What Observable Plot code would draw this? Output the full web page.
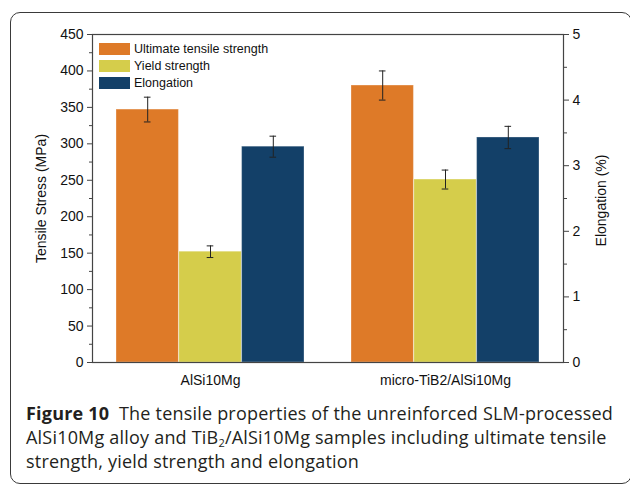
<!DOCTYPE html>
<html>
<head>
<meta charset="utf-8">
<script src="https://cdn.jsdelivr.net/npm/d3@7"></script>
<script src="https://cdn.jsdelivr.net/npm/@observablehq/plot@0.6"></script>
<style>
  html, body { margin: 0; padding: 0; background: #fff; }
  body { width: 630px; height: 484px; position: relative; overflow: hidden; font-family: "Liberation Sans", Arial, sans-serif; }
  #border { position: absolute; left: 10px; top: 12px; width: 622px; height: 472px; border: 1.3px solid #3a3a3a; border-radius: 10px; box-sizing: border-box; }
  #chart { position: absolute; left: 0; top: 0; }
  #legend { position: absolute; left: 99px; top: 40px; font-size: 12.5px; color: #111; }
  .row { display: flex; align-items: center; height: 17px; }
  .sw { width: 31px; height: 12px; margin-right: 4px; box-sizing: border-box; }
  #caption { position: absolute; left: 26px; top: 401px; font-family: "Open Sans", sans-serif; font-size: 18px; line-height: 24px; color: #231f20; letter-spacing: 0.2px; white-space: nowrap; }
  #caption b { font-weight: 700; }
  #caption sub { font-size: 11px; line-height: 0; vertical-align: -3px; }
</style>
</head>
<body>
<div id="border"></div>
<div id="chart"></div>
<div id="legend"></div>
<div id="caption"><b>Figure 10</b>&nbsp; The tensile properties of the unreinforced SLM-processed<br>AlSi10Mg alloy and TiB<sub>2</sub>/AlSi10Mg samples including ultimate tensile<br>strength, yield strength and elongation</div>
<script>
const groups = ["AlSi10Mg", "micro-TiB2/AlSi10Mg"];
const seriesNames = ["Ultimate tensile strength", "Yield strength", "Elongation"];
const seriesColors = ["#de7a28", "#d5cd4b", "#134068"];
const utsValues = [347, 380];
const utsErrors = [17, 20];
const yieldValues = [152, 251];
const yieldErrors = [8, 13];
const elongValues = [3.29, 3.43];
const elongErrors = [0.16, 0.17];
const stressTicks = [0, 50, 100, 150, 200, 250, 300, 350, 400, 450];
const stressMinor = [25, 75, 125, 175, 225, 275, 325, 375, 425];
const elongTicks = [0, 1, 2, 3, 4, 5];
const elongMinor = [0.5, 1.5, 2.5, 3.5, 4.5];
const stressMax = 450, elongMax = 5;
const k = stressMax / elongMax; // elongation -> stress-axis units

const W = 630, H = 392;
const mL = 92, mR = 67, mT = 34, mB = 30;
const pIn = 0.2, pOut = 0.1;
const step = (W - mL - mR) / (groups.length - pIn + 2 * pOut);
const bw = step * (1 - pIn);
const w = bw / 3;

const seriesData = [
  groups.map((g, j) => ({group: g, v: utsValues[j], e: utsErrors[j]})),
  groups.map((g, j) => ({group: g, v: yieldValues[j], e: yieldErrors[j]})),
  groups.map((g, j) => ({group: g, v: elongValues[j] * k, e: elongErrors[j] * k}))
];

const marks = [];
seriesData.forEach((data, i) => {
  marks.push(Plot.barY(data, {x: "group", y: "v", fill: seriesColors[i], stroke: "#ffffff", strokeOpacity: 0.3, strokeWidth: 1,
    insetLeft: i * w, insetRight: (2 - i) * w}));
});
seriesData.forEach((data, i) => {
  const c = (i + 0.5) * w;
  marks.push(Plot.ruleX(data, {x: "group", y1: d => d.v - d.e, y2: d => d.v + d.e, dx: (i - 1) * w, stroke: "#222", strokeWidth: 1}));
  marks.push(Plot.tickY(data, {x: "group", y: d => d.v - d.e, insetLeft: c - 3.5, insetRight: bw - c - 3.5, stroke: "#222", strokeWidth: 1}));
  marks.push(Plot.tickY(data, {x: "group", y: d => d.v + d.e, insetLeft: c - 3.5, insetRight: bw - c - 3.5, stroke: "#222", strokeWidth: 1}));
});

marks.push(
  Plot.axisY(stressTicks, {anchor: "left", tickSize: 5, tickPadding: 4, fontSize: 14, label: null, stroke: "#444", fill: "#111"}),
  Plot.axisY(stressMinor, {anchor: "left", tickSize: 3, tickFormat: () => "", label: null, stroke: "#444"}),
  Plot.axisY(elongTicks.map(v => v * k), {anchor: "right", tickSize: 5, tickPadding: 4, fontSize: 14, label: null, tickFormat: v => String(Math.round(v / k)), stroke: "#444", fill: "#111"}),
  Plot.axisY(elongMinor.map(v => v * k), {anchor: "right", tickSize: 3, tickFormat: () => "", label: null, stroke: "#444"}),
  Plot.axisX({anchor: "bottom", tickSize: 0, tickPadding: 13, fontSize: 14, label: null, fill: "#111"}),
  Plot.text(["Tensile Stress (MPa)"], {frameAnchor: "left", textAnchor: "middle", dx: -51, rotate: -90, fontSize: 14, fill: "#111"}),
  Plot.text(["Elongation (%)"], {frameAnchor: "right", textAnchor: "middle", dx: 38, dy: 2, rotate: -90, fontSize: 14, fill: "#111"}),
  Plot.frame({stroke: "#444", strokeWidth: 1.2})
);

const chart = Plot.plot({
  width: W, height: H,
  marginLeft: mL, marginRight: mR, marginTop: mT, marginBottom: mB,
  style: {fontFamily: "'Liberation Sans', Arial, sans-serif", background: "transparent", overflow: "visible"},
  x: {type: "band", domain: groups, paddingInner: pIn, paddingOuter: pOut, axis: null},
  y: {domain: [0, stressMax], axis: null},
  marks
});
document.getElementById("chart").appendChild(chart);

const legend = document.getElementById("legend");
seriesNames.forEach((name, i) => {
  const row = document.createElement("div");
  row.className = "row";
  const sw = document.createElement("div");
  sw.className = "sw";
  sw.style.background = seriesColors[i];
  const t = document.createElement("span");
  t.textContent = name;
  row.appendChild(sw);
  row.appendChild(t);
  legend.appendChild(row);
});
</script>
</body>
</html>
